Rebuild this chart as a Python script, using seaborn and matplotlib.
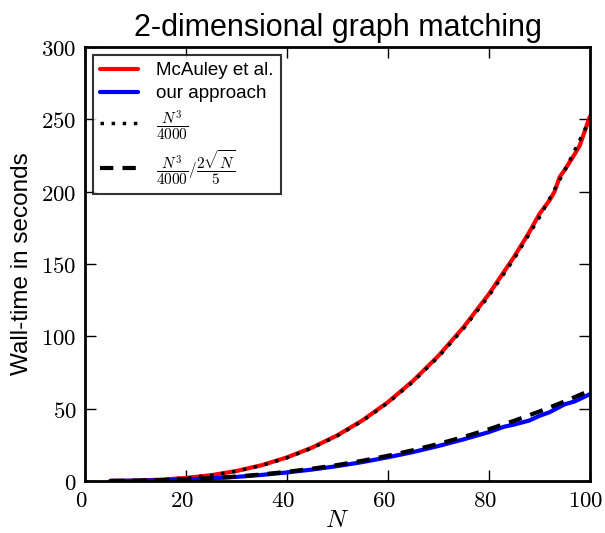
import pandas as pd
import matplotlib
matplotlib.use("Agg")
import matplotlib.pyplot as plt
import matplotlib.transforms as mtransforms
import seaborn as sns

n_red = [5, 10, 15, 20, 25, 30, 35, 40, 45, 50, 55, 60, 65, 70, 75, 80, 85, 88, 90, 92, 93, 94, 95, 97, 98, 100]
mcauley = [0.05, 0.3, 0.9, 2.1, 4.0, 6.9, 10.9, 16.3, 23.1, 31.6, 42.0, 54.5, 69.3, 86.5, 106.4, 129.2, 155.0,
           172.0, 184.5, 194.0, 200.0, 210.0, 215.0, 226.0, 232.0, 252.0]

n_blue = [5, 10, 15, 20, 25, 30, 35, 40, 45, 50, 55, 60, 65, 70, 75, 80, 83, 85, 88, 90, 92, 95, 97, 100]
ours = [0.03, 0.18, 0.5, 1.0, 1.8, 2.8, 4.2, 5.9, 7.9, 10.3, 13.1, 16.4, 20.0, 24.2, 28.8, 33.8, 37.5, 39.0,
        41.8, 45.0, 47.5, 53.0, 55.0, 60.0]

# Reference curves N^3/4000 and N^3/4000 / (2 sqrt(N)/5)
n_ref = [5, 10, 15, 20, 25, 30, 35, 40, 45, 50, 55, 60, 65, 70, 75, 80, 85, 90, 95, 100]
cubic = [0.031, 0.25, 0.844, 2.0, 3.906, 6.75, 10.72, 16.0, 22.78, 31.25, 41.59, 54.0, 68.66, 85.75,
         105.47, 128.0, 153.53, 182.25, 214.34, 250.0]
scaled = [0.035, 0.198, 0.545, 1.118, 1.953, 3.081, 4.530, 6.325, 8.490, 11.049, 14.02, 17.43, 21.29,
          25.62, 30.45, 35.78, 41.63, 48.03, 54.98, 62.5]

sns.set_style("ticks")
plt.rcParams["font.family"] = ["Liberation Sans", "DejaVu Sans"]
plt.rcParams["mathtext.fontset"] = "cm"
plt.rcParams["xtick.direction"] = "in"
plt.rcParams["ytick.direction"] = "in"
for k in ["text.color", "axes.labelcolor", "xtick.color", "ytick.color", "axes.edgecolor"]:
    plt.rcParams[k] = "black"

fig = plt.figure(figsize=(6.05, 5.33), dpi=100)
ax = fig.add_axes([0.1405, 0.0976, 0.8345, 0.8142])

sns.lineplot(x=n_red, y=mcauley, color="#ff0000", lw=3, label="McAuley et al.", ax=ax)
sns.lineplot(x=n_blue, y=ours, color="#0000ff", lw=3, label="our approach", ax=ax)
sns.lineplot(x=n_ref, y=cubic, color="black", lw=2.5, label=r"$\dfrac{N^3}{4000}$", ax=ax)
sns.lineplot(x=n_ref, y=scaled, color="black", lw=3,
             label=r"$\dfrac{N^3}{4000}/\dfrac{2\sqrt{N}}{5}$", ax=ax)
ax.lines[2].set_dashes((1, 2.2))
ax.lines[3].set_dashes((3.2, 2.2))

ax.set_xlim(0, 100)
ax.set_ylim(0, 300)
ax.set_xticks(range(0, 101, 20))
ax.set_yticks(range(0, 301, 50))
ax.set_xticklabels([f"${v}$" for v in range(0, 101, 20)], fontsize=16.5)
ax.set_yticklabels([f"${v}$" for v in range(0, 301, 50)], fontsize=16.5)
ax.tick_params(top=True, right=True, length=8, width=1, pad=6)
for s in ax.spines.values():
    s.set_linewidth(2)

# nudge the x tick labels a little to the left so "100" stays inside the figure
shift = mtransforms.ScaledTranslation(-4 / 100, 0, fig.dpi_scale_trans)
for lbl in ax.get_xticklabels():
    lbl.set_transform(lbl.get_transform() + shift)

ax.set_title("2-dimensional graph matching", fontsize=22, pad=8)
ax.set_xlabel("$N$", fontsize=18, labelpad=-3)
ax.set_ylabel("Wall-time in seconds", fontsize=17.5, labelpad=6)

leg = ax.legend(loc="upper left", fontsize=13.5, frameon=True, fancybox=False,
                edgecolor="black", handlelength=2.0, handletextpad=1.0, labelspacing=0.32,
                borderpad=0.4, borderaxespad=0.4)
leg.get_frame().set_linewidth(1.5)
for t in leg.get_texts()[2:]:
    t.set_fontsize(11)

fig.savefig("out.png", dpi=100)
